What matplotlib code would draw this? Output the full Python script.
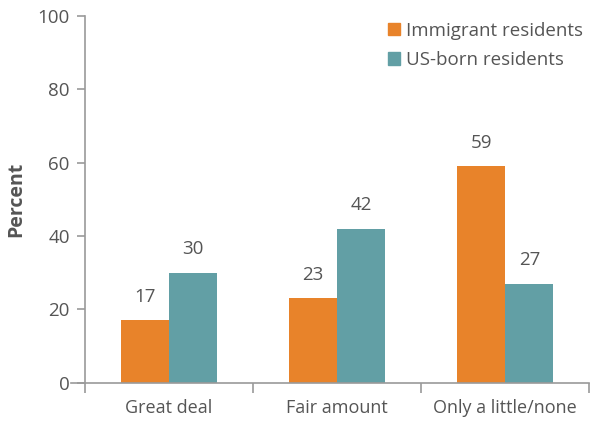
import numpy as np
import matplotlib.pyplot as plt
from matplotlib.patches import Patch

categories = ["Great deal", "Fair amount", "Only a little/none"]
immigrant = [17, 23, 59]
us_born = [30, 42, 27]
series_labels = ["Immigrant residents", "US-born residents"]
colors = ["#E8832A", "#629FA5"]

plt.rcParams['font.family'] = ['Open Sans', 'DejaVu Sans']
txt = "#555555"
axc = "#9a9a9a"

fig = plt.figure(figsize=(5.91, 4.23), dpi=100)
ax = fig.add_axes([0.144, 0.095, 0.853, 0.867])

x = np.arange(len(categories))
w = 0.287
b1 = ax.bar(x - w / 2, immigrant, w, color=colors[0])
b2 = ax.bar(x + w / 2, us_born, w, color=colors[1])
for bars, vals in ((b1, immigrant), (b2, us_born)):
    for r, v in zip(bars, vals):
        ax.text(r.get_x() + r.get_width() / 2, v + 4, str(v), ha='center', va='bottom',
                fontsize=13.5, color=txt)

ax.set_xlim(-0.5, 2.5)
ax.set_ylim(0, 100)
ax.set_yticks(range(0, 101, 20))
ax.set_xticks([-0.5, 0.5, 1.5, 2.5])
ax.set_xticklabels([])
ax.set_xticks(x, minor=True)
ax.set_xticklabels(categories, minor=True)
ax.tick_params(axis='x', which='minor', length=0, pad=12, labelsize=13, labelcolor=txt)
ax.tick_params(axis='x', which='major', length=7, color=axc, width=1.2)
ax.tick_params(axis='y', length=6, color=axc, width=1.2, labelsize=13.5, labelcolor=txt, pad=5)

for s in ['top', 'right']:
    ax.spines[s].set_visible(False)
for s in ['left', 'bottom']:
    ax.spines[s].set_color(axc)
    ax.spines[s].set_linewidth(1.2)
ax.spines['bottom'].set_bounds(-0.585, 2.5)

ax.set_ylabel("Percent", fontsize=14, fontweight='bold', color=txt, labelpad=8)

handles = [Patch(color=c) for c in colors]
ax.legend(handles, series_labels, loc='upper right', bbox_to_anchor=(1.01, 1.015), frameon=False,
          fontsize=13.5, labelcolor=txt, handlelength=0.65, handleheight=0.65,
          handletextpad=0.3, labelspacing=0.6, borderaxespad=0.2)

fig.savefig("out.png", dpi=100)
